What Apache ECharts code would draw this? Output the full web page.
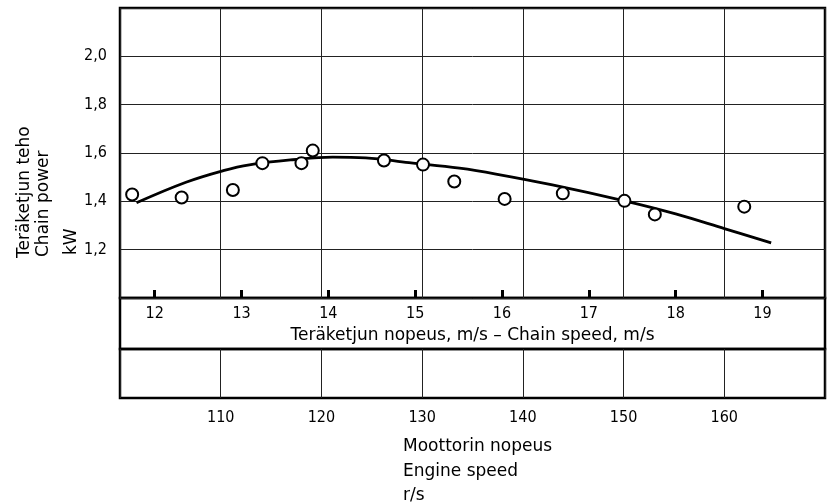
<!DOCTYPE html>
<html>
<head>
<meta charset="utf-8">
<script src="https://cdn.jsdelivr.net/npm/echarts@6/dist/echarts.min.js"></script>
<style>html,body{margin:0;padding:0;background:#fff}#c{width:831px;height:504px}</style>
</head>
<body>
<div id="c"></div>
<script>
// Measured points: chain speed (m/s) and chain power (kW)
var pointSpeed = [11.74, 12.31, 12.90, 13.24, 13.69, 13.82, 14.64, 15.09, 15.45, 16.03, 16.70, 17.41, 17.76, 18.79];
var pointPower = [1.428, 1.416, 1.447, 1.558, 1.558, 1.610, 1.569, 1.552, 1.482, 1.410, 1.433, 1.402, 1.346, 1.378];
// Fitted curve
var curveSpeed = [11.79, 12.36, 12.79, 13.09, 13.59, 14.05, 14.43, 14.93, 15.51, 15.93, 16.58, 17.41, 18.00, 18.57, 19.10];
var curvePower = [1.394, 1.479, 1.527, 1.551, 1.572, 1.583, 1.580, 1.560, 1.537, 1.513, 1.468, 1.402, 1.348, 1.286, 1.228];
// Tick labels
var chainTicks = [12, 13, 14, 15, 16, 17, 18, 19];
var engineTicks = [110, 120, 130, 140, 150, 160];
var powerTicks = [1.2, 1.4, 1.6, 1.8, 2.0];

var FONT = 'DejaVu Sans';
var NUMFONT = 'DejaVu Sans Condensed';
var chart = echarts.init(document.getElementById('c'), null, {renderer: 'canvas'});

function pairs(a, b) { return a.map(function (v, i) { return [v, b[i]]; }); }

var gridBox = {show: true, borderColor: '#000', borderWidth: 2.5, backgroundColor: 'transparent'};
var L = 120, W = 705;
var nameFont = '17px "' + FONT + '"';

var option = {
  animation: false,
  backgroundColor: '#fff',
  grid: [
    Object.assign({left: L, width: W, top: 8, height: 290}, gridBox),
    Object.assign({left: L, width: W, top: 298, height: 51}, gridBox),
    Object.assign({left: L, width: W, top: 349, height: 49}, gridBox)
  ],
  xAxis: [
    { // chain speed
      type: 'value', gridIndex: 0, position: 'bottom', min: 11.6, max: 19.72,
      axisLine: {show: false},
      axisTick: {show: true, inside: true, length: 8, customValues: chainTicks, lineStyle: {color: '#000', width: 3}},
      axisLabel: {show: true, margin: 8, customValues: chainTicks, color: '#000', fontFamily: NUMFONT, fontSize: 16,
        formatter: function (v) { return String(Math.round(v)); }},
      splitLine: {show: false},
      name: 'Teräketjun nopeus, m/s – Chain speed, m/s', nameLocation: 'middle', nameGap: 28,
      nameTextStyle: {color: '#000', fontFamily: FONT, fontSize: 17}
    },
    { // engine speed gridlines in main plot
      type: 'value', gridIndex: 0, position: 'top', min: 100, max: 170, interval: 10,
      axisLine: {show: false}, axisTick: {show: false}, axisLabel: {show: false},
      splitLine: {show: true, lineStyle: {color: '#222', width: 1}}
    },
    { type: 'value', gridIndex: 1, min: 0, max: 1, show: false },
    { // engine speed scale
      type: 'value', gridIndex: 2, position: 'bottom', min: 100, max: 170, interval: 10,
      axisLine: {show: false}, axisTick: {show: false},
      axisLabel: {show: true, margin: 12, color: '#000', fontFamily: NUMFONT, fontSize: 16,
        formatter: function (v) { return engineTicks.indexOf(v) >= 0 ? String(v) : ''; }},
      splitLine: {show: true, lineStyle: {color: '#222', width: 1}}
    }
  ],
  yAxis: [
    {
      type: 'value', gridIndex: 0, min: 1.0, max: 2.2, interval: 0.2,
      axisLine: {show: false}, axisTick: {show: false},
      axisLabel: {show: true, margin: 13, color: '#000', fontFamily: NUMFONT, fontSize: 16,
        formatter: function (v) {
          for (var i = 0; i < powerTicks.length; i++) {
            if (Math.abs(powerTicks[i] - v) < 1e-6) return powerTicks[i].toFixed(1).replace('.', ',');
          }
          return '';
        }},
      splitLine: {show: true, lineStyle: {color: '#222', width: 1}}
    },
    { type: 'value', gridIndex: 1, min: 0, max: 1, show: false },
    { type: 'value', gridIndex: 2, min: 0, max: 1, show: false }
  ],
  graphic: [
    {type: 'text', x: 25, y: 258, rotation: Math.PI / 2,
      style: {text: 'Teräketjun teho', fill: '#000', font: nameFont, textAlign: 'left', textVerticalAlign: 'middle'}},
    {type: 'text', x: 44, y: 257, rotation: Math.PI / 2,
      style: {text: 'Chain power', fill: '#000', font: nameFont, textAlign: 'left', textVerticalAlign: 'middle'}},
    {type: 'text', x: 72, y: 255, rotation: Math.PI / 2,
      style: {text: 'kW', fill: '#000', font: nameFont, textAlign: 'left', textVerticalAlign: 'middle'}},
    {type: 'text', x: 403, y: 447,
      style: {text: 'Moottorin nopeus', fill: '#000', font: nameFont, textAlign: 'left', textVerticalAlign: 'middle'}},
    {type: 'text', x: 403, y: 472,
      style: {text: 'Engine speed', fill: '#000', font: nameFont, textAlign: 'left', textVerticalAlign: 'middle'}},
    {type: 'text', x: 403, y: 496,
      style: {text: 'r/s', fill: '#000', font: nameFont, textAlign: 'left', textVerticalAlign: 'middle'}}
  ],
  series: [
    {
      type: 'line', xAxisIndex: 0, yAxisIndex: 0, data: pairs(curveSpeed, curvePower),
      smooth: 0.4, showSymbol: false, symbol: 'none', z: 2,
      lineStyle: {color: '#000', width: 2.8}
    },
    {
      type: 'scatter', xAxisIndex: 0, yAxisIndex: 0, data: pairs(pointSpeed, pointPower),
      symbol: 'circle', symbolSize: 12, z: 3,
      itemStyle: {color: '#fff', borderColor: '#000', borderWidth: 2, opacity: 1}
    }
  ]
};
chart.setOption(option);
</script>
</body>
</html>
